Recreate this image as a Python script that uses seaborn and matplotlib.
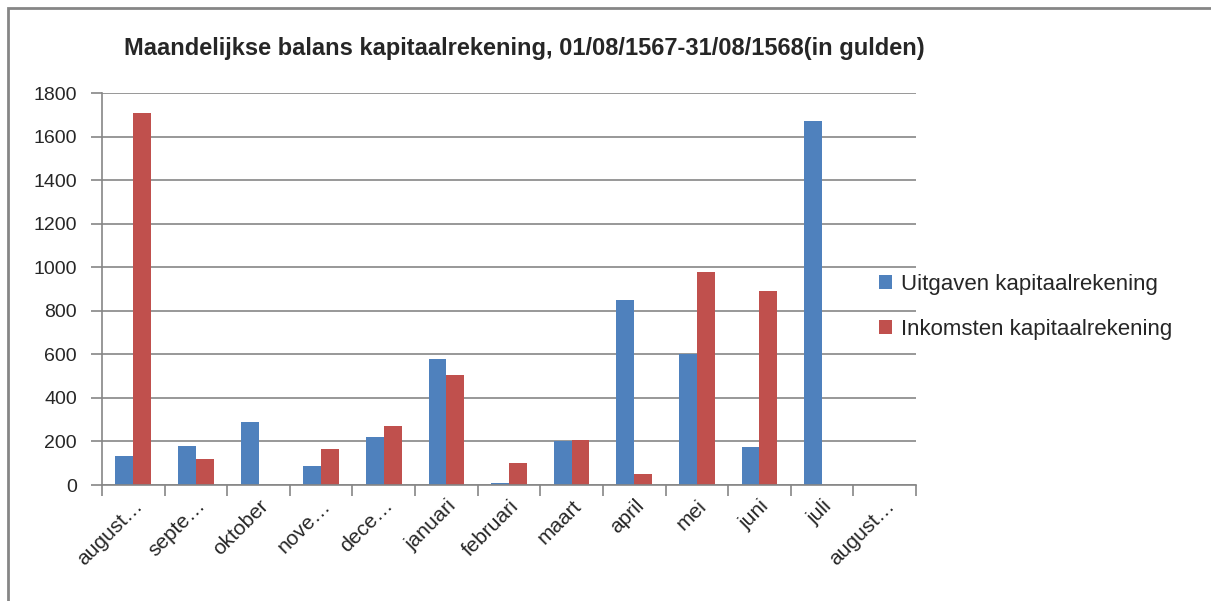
import numpy as np
import pandas as pd
import matplotlib
matplotlib.use("Agg")
import matplotlib.pyplot as plt
import seaborn as sns
from matplotlib.patches import Rectangle

months = ["august…", "septe…", "oktober", "nove…", "dece…", "januari", "februari",
          "maart", "april", "mei", "juni", "juli", "august…"]
month_keys = ["aug1567", "sep", "okt", "nov", "dec", "jan", "feb", "mrt", "apr", "mei", "jun", "jul", "aug1568"]
uitgaven = [135, 180, 290, 85, 220, 580, 10, 200, 850, 600, 175, 1670, np.nan]
inkomsten = [1710, 120, np.nan, 165, 270, 505, 100, 205, 50, 980, 890, np.nan, np.nan]
series = ["Uitgaven kapitaalrekening", "Inkomsten kapitaalrekening"]
yticks = [0, 200, 400, 600, 800, 1000, 1200, 1400, 1600, 1800]

df = pd.DataFrame({
    "maand": month_keys * 2,
    "waarde": uitgaven + inkomsten,
    "reeks": [series[0]] * len(month_keys) + [series[1]] * len(month_keys),
})

sns.set_theme(style="white")
plt.rcParams['font.family'] = ['Liberation Sans', 'DejaVu Sans']

fig = plt.figure(figsize=(12.11, 6.01), dpi=100)
ax = fig.add_axes([102/1211, 1-485/601, (916-102)/1211, (485-93)/601])

sns.barplot(data=df, x="maand", y="waarde", hue="reeks", order=month_keys,
            hue_order=series, palette=["#4F81BD", "#C0504D"], width=0.571,
            saturation=1, ax=ax, errorbar=None, legend=True, linewidth=0)

ax.set_xlim(-0.5, len(month_keys) - 0.5)
ax.set_ylim(0, 1800)
ax.set_yticks(yticks)
ax.set_yticklabels([str(v) for v in yticks], fontsize=14)
ax.yaxis.grid(True, color="#868686", linewidth=1.2)
ax.set_axisbelow(True)
for s in ["top", "right"]:
    ax.spines[s].set_visible(False)
for s in ["left", "bottom"]:
    ax.spines[s].set_color("#868686")
    ax.spines[s].set_linewidth(1.2)
ax.tick_params(axis="y", which="major", length=8, color="#868686", width=1.2, direction="out", pad=10, left=True)
ax.set_xticks(np.arange(len(month_keys)))
ax.set_xticklabels(months, rotation=45, ha="right", rotation_mode="anchor", fontsize=15)
ax.tick_params(axis="x", which="major", length=0, pad=8)
ax.set_xticks(np.arange(-0.5, len(month_keys)), minor=True)
ax.tick_params(axis="x", which="minor", length=8, color="#868686", width=1.2, bottom=True)
ax.set_xlabel("")
ax.set_ylabel("")

leg = ax.legend(loc="center left", frameon=False, fontsize=16, handlelength=0.6, handleheight=0.6,
                handletextpad=0.4, labelspacing=1.1)
leg.set_bbox_to_anchor((859/1211, 1-307/601), transform=fig.transFigure)

fig.text(524/1211, 1-48/601, "Maandelijkse balans kapitaalrekening, 01/08/1567-31/08/1568(in gulden)",
         ha="center", va="center", fontsize=17, fontweight="bold")

fig.patches.append(Rectangle((8/1211, -0.1), 1.2, 1.1 - 8/601, transform=fig.transFigure,
                             fill=False, edgecolor="#868686", linewidth=2))

fig.savefig("out.png", dpi=100)
